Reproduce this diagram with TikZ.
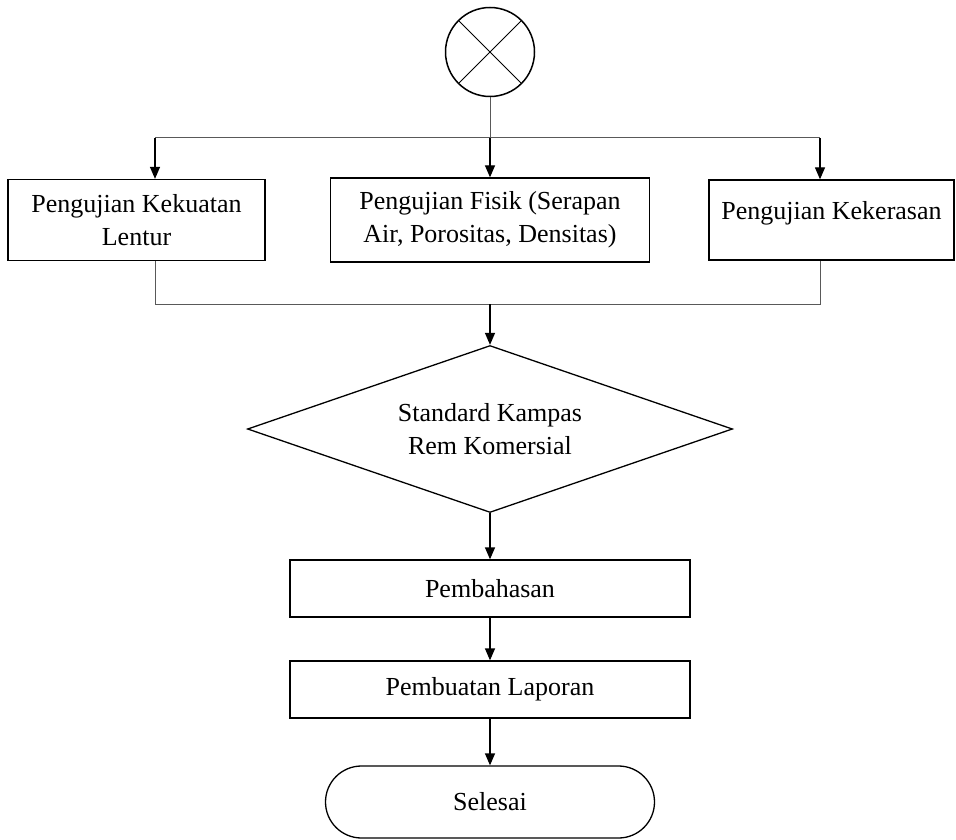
\documentclass[tikz,border=0pt]{standalone}
\usepackage{fontspec}
\setmainfont{Liberation Serif}
\usetikzlibrary{arrows.meta, positioning, shapes.geometric}

\begin{document}
\begin{tikzpicture}[x=1pt, y=-1pt, node distance=100pt, on grid,
  font=\fontsize{26}{33}\selectfont,
  kotak/.style={draw, line width=1.3pt, align=center, inner sep=0pt},
  garis/.style={line width=1pt, draw=black!65},
  panah/.style={line width=1.3pt, -{Triangle[length=12pt, width=10pt]}}]
  \useasboundingbox (0,0) rectangle (956,840);
  \node[circle, draw, line width=1.5pt, minimum size=89pt] (mulai) at (490,52) {};
  \draw[line width=1pt] (mulai.north west) -- (mulai.south east)
    (mulai.north east) -- (mulai.south west);
  \node[kotak, minimum width=319pt, minimum height=84pt] (fisik) [below=168pt of mulai] {Pengujian Fisik (Serapan\\Air, Porositas, Densitas)};
  \node[kotak, minimum width=257pt, minimum height=81pt] (lentur) [left=353.5pt of fisik] {Pengujian Kekuatan\\Lentur};
  \node[kotak, minimum width=245pt, minimum height=80pt] (keras) [right=341.5pt of fisik] {\raisebox{7pt}[\height][\depth]{Pengujian Kekerasan}};
  \node[kotak, diamond, aspect=2.9, minimum width=485pt, minimum height=167pt] (keputusan) [below=209pt of fisik] {Standard Kampas\\Rem Komersial};
  \node[kotak, minimum width=400pt, minimum height=57pt] (bahas) [below=159.5pt of keputusan] {Pembahasan};
  \node[kotak, minimum width=400pt, minimum height=57pt] (laporan) [below=101pt of bahas] {Pembuatan Laporan};
  \node[kotak, rounded corners=36pt, minimum width=329pt, minimum height=72pt] (selesai) [below=112.5pt of laporan] {Selesai};
  % titik cabang dan gabung
  \coordinate (pisah) at (490,138);
  \coordinate (cabangL) at (155,138);
  \coordinate (cabangR) at (820,138);
  \coordinate (gabungL) at (155,304);
  \coordinate (gabungR) at (820,304);
  \coordinate (gabung) at (490,304);
  \draw[garis] (mulai) -- (pisah);
  \draw[garis] (cabangL) -- (cabangR);
  \draw[panah] (cabangL) -- (cabangL |- lentur.north);
  \draw[panah] (pisah) -- (fisik);
  \draw[panah] (cabangR) -- (cabangR |- keras.north);
  \draw[garis] (lentur.south -| gabungL) -- (gabungL) -- (gabungR) -- (keras.south -| gabungR);
  \draw[panah] (gabung) -- (keputusan);
  \draw[panah] (keputusan) -- (bahas);
  \draw[panah] (bahas) -- (laporan);
  \draw[panah] (laporan) -- (selesai);
\end{tikzpicture}
\end{document}
